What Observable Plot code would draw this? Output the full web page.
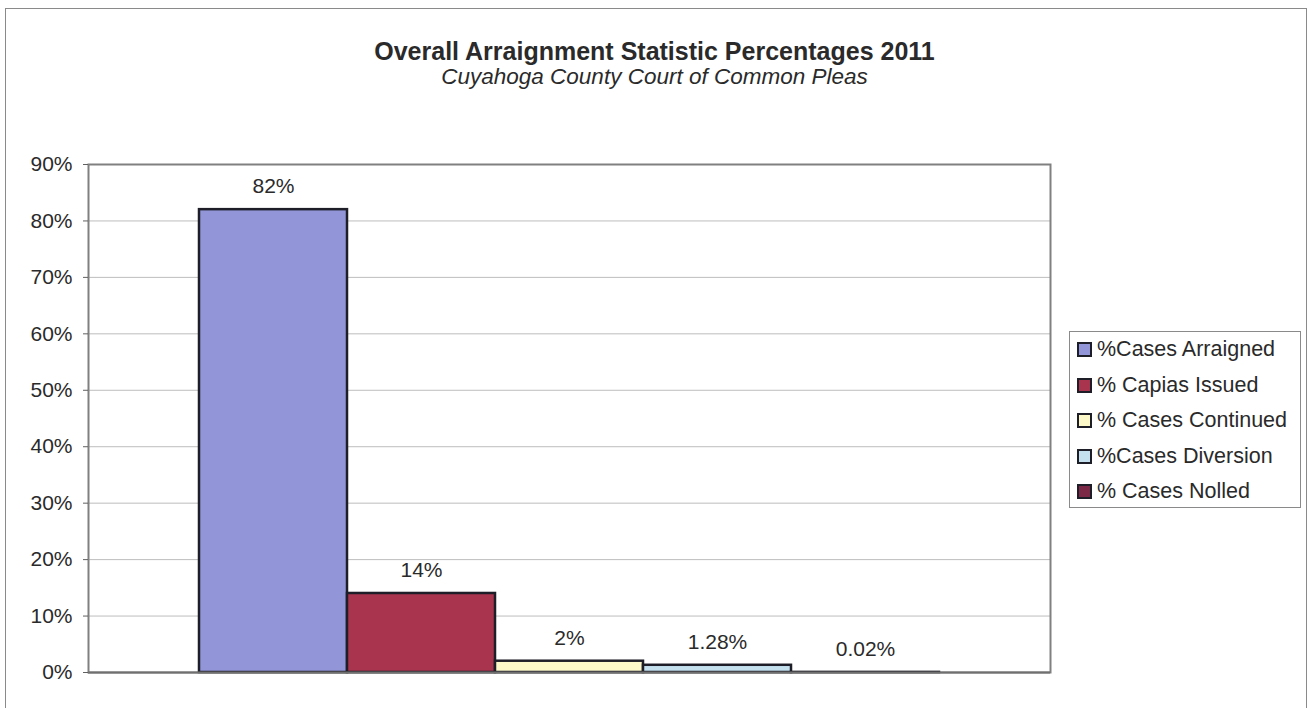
<!DOCTYPE html>
<html>
<head>
<meta charset="utf-8">
<script src="https://cdn.jsdelivr.net/npm/d3@7"></script>
<script src="https://cdn.jsdelivr.net/npm/@observablehq/plot@0.6"></script>
<style>
  html, body { margin: 0; padding: 0; background: #fff; overflow: hidden; }
  #wrap { position: relative; width: 1309px; height: 708px; font-family: "Liberation Sans", Arial, sans-serif; color: #2a2a2a; }
  #border { position: absolute; left: 5px; top: 8px; width: 1302px; height: 740px; border: 1.5px solid #8a8a8a; box-sizing: border-box; }
  #title { position: absolute; left: 0; width: 1309px; top: 39px; height: 25px; line-height: 25px; text-align: center; font-weight: bold; font-size: 25px; color: #2a2a2a; }
  #subtitle { position: absolute; left: 0; width: 1309px; top: 66px; height: 22px; line-height: 22px; text-align: center; font-style: italic; font-size: 22.5px; color: #2a2a2a; }
  #chart { position: absolute; left: 0; top: 0; }
  #legend { position: absolute; left: 1069px; top: 331px; width: 232px; height: 177px; border: 1.5px solid #8a8a8a; box-sizing: border-box; padding-top: 0px; }
  .item { display: flex; align-items: center; height: 35.5px; font-size: 21.5px; color: #2a2a2a; white-space: nowrap; }
  .sw { width: 11px; height: 11px; border: 2px solid #1e1e28; margin-left: 7px; margin-right: 5px; flex: none; }
</style>
</head>
<body>
<div id="wrap">
  <div id="border"></div>
  <div id="title"></div>
  <div id="subtitle"></div>
  <div id="chart"></div>
  <div id="legend"></div>
</div>
<script>
const titleText = "Overall Arraignment Statistic Percentages 2011";
const subtitleText = "Cuyahoga County Court of Common Pleas";
const series = ["%Cases Arraigned", "% Capias Issued", "% Cases Continued", "%Cases Diversion", "% Cases Nolled"];
const values = [82, 14, 2, 1.28, 0.02];
const labels = ["82%", "14%", "2%", "1.28%", "0.02%"];
const colors = ["#9296d8", "#a8344e", "#fcf8c8", "#c4e0ee", "#7a2846"];
const yTicks = [0, 10, 20, 30, 40, 50, 60, 70, 80, 90];

document.getElementById("title").textContent = titleText;
document.getElementById("subtitle").textContent = subtitleText;

const data = series.map((s, i) => ({series: s, value: values[i], label: labels[i]}));

const chart = Plot.plot({
  width: 1309,
  height: 708,
  marginTop: 164,
  marginBottom: 36,
  marginLeft: 88,
  marginRight: 259,
  style: {fontFamily: "Liberation Sans, Arial, sans-serif", fontSize: "21px", color: "#2a2a2a", background: "transparent"},
  x: {domain: series, paddingInner: 0, paddingOuter: 0.75, axis: null},
  y: {domain: [0, 90], label: null},
  color: {domain: series, range: colors},
  marks: [
    Plot.gridY(yTicks, {stroke: "#bdbdbd", strokeOpacity: 1, strokeWidth: 1}),
    Plot.frame({stroke: "#808080", strokeWidth: 2}),
    Plot.axisY({ticks: yTicks, tickFormat: d => d + "%", tickSize: 5, tickPadding: 11, fontSize: 21, label: null, stroke: "#606060"}),
    Plot.ruleX([0], {frameAnchor: "left", stroke: "#606060", strokeWidth: 2}),
    Plot.barY(data, {x: "series", y: "value", fill: "series", stroke: "#1e1e28", strokeWidth: 2.5}),
    Plot.ruleY([0], {stroke: "#707070", strokeWidth: 2}),
    Plot.text(data, {x: "series", y: "value", text: "label", dy: -23, fontSize: 21, fill: "#2a2a2a"})
  ]
});
document.getElementById("chart").appendChild(chart);

const legend = document.getElementById("legend");
series.forEach((s, i) => {
  const row = document.createElement("div");
  row.className = "item";
  const sw = document.createElement("div");
  sw.className = "sw";
  sw.style.background = colors[i];
  const t = document.createElement("span");
  t.textContent = s;
  row.appendChild(sw);
  row.appendChild(t);
  legend.appendChild(row);
});
</script>
</body>
</html>
